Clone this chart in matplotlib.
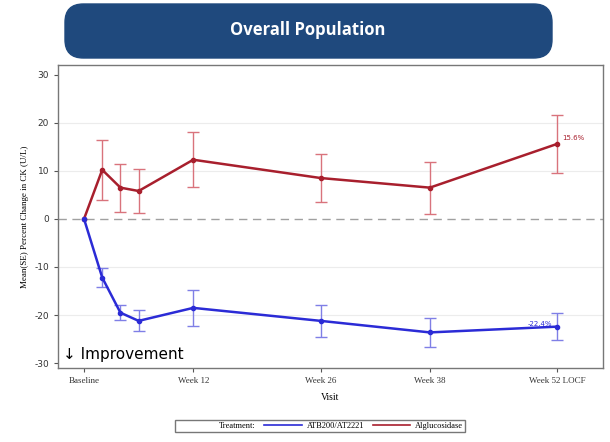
import numpy as np
import matplotlib.pyplot as plt
from matplotlib.patches import FancyBboxPatch
from matplotlib.lines import Line2D

plt.rcParams['axes.unicode_minus'] = False

weeks = [0, 2, 4, 6, 12, 26, 38, 52]
tick_weeks = [0, 12, 26, 38, 52]
tick_labels = ['Baseline', 'Week 12', 'Week 26', 'Week 38', 'Week 52 LOCF']

atb_mean = [0, -12.2, -19.5, -21.2, -18.5, -21.2, -23.6, -22.4]
atb_se = [0, 2.0, 1.5, 2.2, 3.7, 3.4, 3.0, 2.8]
alg_mean = [0, 10.2, 6.5, 5.8, 12.3, 8.5, 6.5, 15.6]
alg_se = [0, 6.2, 5.0, 4.6, 5.7, 5.0, 5.4, 6.0]

blue = '#2b2bd6'
red = '#a81f2d'
blue_light = '#7f7fe6'
red_light = '#d9737c'

fig = plt.figure(figsize=(6.1, 4.42), dpi=100)
fig.patch.set_facecolor('white')

# title banner
box = FancyBboxPatch((65/610, 1 - 58/442), (552-65)/610, 54/442,
                     boxstyle='round,pad=0,rounding_size=0.03',
                     transform=fig.transFigure, facecolor='#1f497d',
                     edgecolor='#1f497d', mutation_aspect=610/442)
fig.patches.append(box)
fig.text(308/610, 1 - 30/442, 'Overall Population', color='white',
         fontsize=12, fontweight='bold', ha='center', va='center',
         family='Open Sans')

ax = fig.add_axes([58/610, 1 - 368/442, (603-58)/610, (368-65)/442])
for y in [-20, -10, 10, 20]:
    ax.axhline(y, color='#ececec', lw=0.8, zorder=0)
ax.axhline(0, color='#a0a0a0', lw=1, ls=(0, (6, 4)), zorder=1)

ax.errorbar(weeks[1:], alg_mean[1:], yerr=alg_se[1:], fmt='none',
            ecolor=red_light, elinewidth=1, capsize=4, capthick=1, zorder=2)
ax.errorbar(weeks[1:], atb_mean[1:], yerr=atb_se[1:], fmt='none',
            ecolor=blue_light, elinewidth=1, capsize=4, capthick=1, zorder=2)
ax.plot(weeks, alg_mean, color=red, lw=1.8, marker='o', ms=3, zorder=3)
ax.plot(weeks, atb_mean, color=blue, lw=1.8, marker='o', ms=3, zorder=3)

ax.text(weeks[-1] + 0.6, alg_mean[-1] + 1.2, f'{alg_mean[-1]}%', color=red,
        fontsize=5, ha='left', va='center', family='DejaVu Sans')
ax.text(weeks[-1] - 0.6, atb_mean[-1] + 0.6, f'{atb_mean[-1]}%', color=blue,
        fontsize=5, ha='right', va='center', family='DejaVu Sans')

ax.text(0.01, 0.045, '\u2193 Improvement', transform=ax.transAxes,
        fontsize=11, ha='left', va='center', family='DejaVu Sans')

ax.set_xlim(-2.86, 57.03)
ax.set_ylim(-31, 32)
ax.set_yticks([-30, -20, -10, 0, 10, 20, 30])
ax.set_xticks(tick_weeks)
ax.set_xticklabels(tick_labels, family='Liberation Serif', fontsize=6.5)
for lab in ax.get_yticklabels():
    lab.set_family('DejaVu Sans')
    lab.set_fontsize(6.5)
ax.tick_params(length=3, color='#555555', labelcolor='#333333')
for s in ax.spines.values():
    s.set_color('#777777')
    s.set_linewidth(1)

ax.set_xlabel('Visit', family='Liberation Serif', fontsize=7, labelpad=6)
ax.set_ylabel('Mean(SE) Percent Change in CK (U/L)', family='Liberation Serif',
              fontsize=6.5, labelpad=4)

handles = [Line2D([], [], color='none'),
           Line2D([], [], color=blue, lw=1.2),
           Line2D([], [], color=red, lw=1.2)]
leg = fig.legend(handles, ['Treatment:', 'ATB200/AT2221', 'Alglucosidase'],
                 loc='center', bbox_to_anchor=(320/610, 1 - 426/442), ncol=3,
                 frameon=True, fancybox=False, edgecolor='#555555',
                 prop={'family': 'Liberation Serif', 'size': 6},
                 handlelength=4.5, columnspacing=1.0, borderpad=0.25,
                 handletextpad=0.6)
leg.get_frame().set_linewidth(1)

fig.savefig('out.png', dpi=100)
